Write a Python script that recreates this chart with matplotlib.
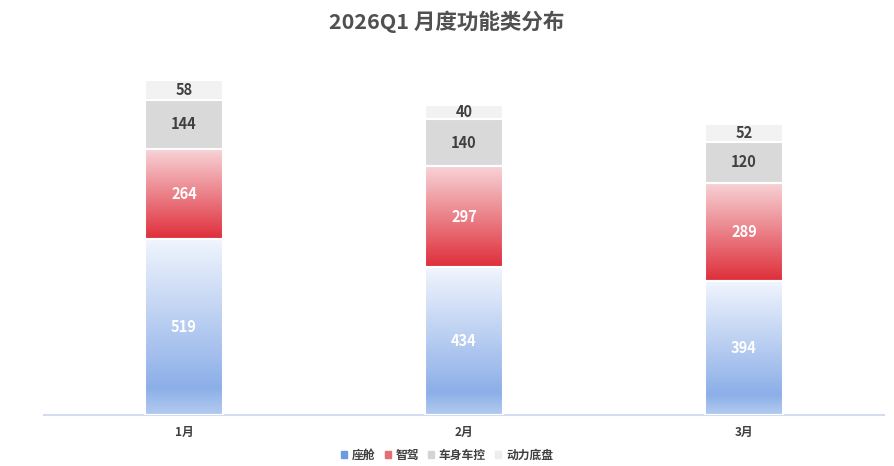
import numpy as np
import matplotlib
matplotlib.use("Agg")
import matplotlib.pyplot as plt
from matplotlib.colors import LinearSegmentedColormap
from matplotlib.patches import Patch

plt.rcParams['font.family'] = ['Noto Sans CJK SC', 'DejaVu Sans']

months = ['1月', '2月', '3月']
series_names = ['座舱', '智驾', '车身车控', '动力底盘']
cockpit = [519, 434, 394]
adas = [264, 297, 289]
body = [144, 140, 120]
chassis = [58, 40, 52]

W, H = 894, 466
fig = plt.figure(figsize=(W / 100, H / 100), dpi=100)
ax = fig.add_axes([44 / W, (H - 415) / H, 840 / W, 340 / H])

x = np.arange(len(months))
bar_w = 0.28

blue_cmap = LinearSegmentedColormap.from_list(
    'blue', [(0.0, '#b4cbf0'), (0.15, '#8cafe8'), (1.0, '#f1f5fd')])
red_cmap = LinearSegmentedColormap.from_list(
    'red', [(0.0, '#df2e3a'), (1.0, '#f7d4d7')])

grad = np.linspace(0, 1, 256).reshape(-1, 1)

values = [cockpit, adas, body, chassis]
fills = [blue_cmap, red_cmap, '#d9d9d9', '#f2f2f2']
label_colors = ['white', 'white', '#404040', '#404040']

bottom = np.zeros(len(months))
for vals, fill, lc in zip(values, fills, label_colors):
    vals = np.array(vals, dtype=float)
    if isinstance(fill, str):
        bars = ax.bar(x, vals, bar_w, bottom=bottom, color=fill,
                      edgecolor='white', linewidth=1.5, zorder=2)
    else:
        bars = ax.bar(x, vals, bar_w, bottom=bottom, color='none',
                      edgecolor='white', linewidth=1.5, zorder=3)
        for b in bars:
            x0, y0 = b.get_x(), b.get_y()
            ax.imshow(grad, cmap=fill, origin='lower', aspect='auto',
                      extent=[x0, x0 + b.get_width(), y0, y0 + b.get_height()],
                      zorder=2, interpolation='bilinear')
    for xi, v, b0 in zip(x, vals, bottom):
        ax.text(xi, b0 + v / 2, f'{int(v)}', ha='center', va='center',
                color=lc, fontsize=10.5, fontweight='bold', zorder=4)
    bottom += vals

ax.set_xlim(-0.5, len(months) - 0.5)
ax.set_ylim(0, 1000)
ax.set_xticks(x)
ax.set_xticklabels(months, fontsize=8.5, fontweight='bold', color='#404040')
ax.tick_params(axis='x', length=0, pad=8)
ax.set_yticks([])
for s in ['top', 'right', 'left']:
    ax.spines[s].set_visible(False)
ax.spines['bottom'].set_color('#d3ddf0')
ax.spines['bottom'].set_linewidth(1.5)

fig.text(0.5, 1 - 22 / H, '2026Q1 月度功能类分布', ha='center', va='center',
         fontsize=15.5, fontweight='bold', color='#505050')

handles = [Patch(color=c) for c in ['#6a9be0', '#e46f74', '#d4d4d4', '#ededed']]
leg = fig.legend(handles, series_names, loc='center', bbox_to_anchor=(0.5, 1 - 455 / H),
                 ncol=4, frameon=False, handlelength=0.5, handleheight=0.5,
                 handletextpad=0.4, columnspacing=0.8,
                 prop={'size': 8.5, 'weight': 'bold'})
for t in leg.get_texts():
    t.set_color('#404040')

fig.savefig('out.png', dpi=100)
